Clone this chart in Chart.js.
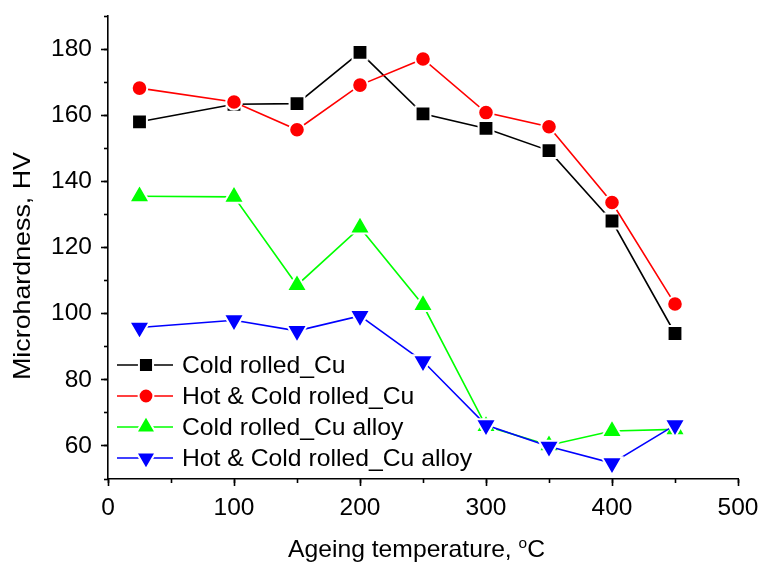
<!DOCTYPE html>
<html>
<head>
<meta charset="utf-8">
<script src="https://cdn.jsdelivr.net/npm/chart.js@4.4.0/dist/chart.umd.min.js"></script>
<style>
    html, body { margin: 0; padding: 0; background: #fff; }
    #div_container { width: 761px; height: 568px; }
</style>
</head>
<body>
<div id="div_container"><canvas id="lineChartID" width="761" height="568"></canvas></div>
<script>
const temperaturas = [25, 100, 150, 200, 250, 300, 350, 400, 450];
const coldCu = [158, 163.3, 163.5, 179, 160.4, 156, 149.3, 128, 94];
const hotColdCu = [168.2, 164, 155.6, 169.1, 177, 160.8, 156.5, 133.6, 102.9];
const coldCuAlloy = [135.5, 135.3, 108.6, 126, 102.6, 66, 60.2, 64.5, 65];
const hotColdCuAlloy = [95.8, 98, 94.8, 99.3, 85.6, 66.3, 59.8, 54.8, 66.3];

const seriesNames = ['Cold rolled_Cu', 'Hot & Cold rolled_Cu', 'Cold rolled_Cu alloy', 'Hot & Cold rolled_Cu alloy'];
const xTicks = [0, 100, 200, 300, 400, 500];
const xMinorTicks = [0, 50, 100, 150, 200, 250, 300, 350, 400, 450, 500];
const yTicks = [60, 80, 100, 120, 140, 160, 180];
const yMinorTicks = [50, 60, 70, 80, 90, 100, 110, 120, 130, 140, 150, 160, 170, 180, 190];
const xTitle = 'Ageing temperature, ';
const yTitle = 'Microhardness, HV';

const fonte = '"Liberation Sans", Arial, sans-serif';

function toPoints(valores) {
    return temperaturas.map((t, i) => ({ x: t, y: valores[i] }));
}

function setTicks(lista) {
    return function (scale) {
        scale.ticks = lista.map(v => ({ value: v }));
    };
}

// titles drawn by hand so the degree sign can be a superscript o
const titlesPlugin = {
    id: 'titles',
    afterDraw(chart) {
        const ctx = chart.ctx;
        ctx.save();
        ctx.fillStyle = '#000';
        ctx.textBaseline = 'alphabetic';

        ctx.font = '24px ' + fonte;
        const wy = ctx.measureText(yTitle).width;
        ctx.translate(30, 266);
        ctx.rotate(-Math.PI / 2);
        ctx.scale(228 / wy, 1);
        ctx.textAlign = 'center';
        ctx.fillText(yTitle, 0, 0);
        ctx.restore();

        ctx.save();
        ctx.fillStyle = '#000';
        ctx.textAlign = 'left';
        ctx.font = '24px ' + fonte;
        const w1 = ctx.measureText(xTitle).width;
        const w3 = ctx.measureText('C').width;
        ctx.font = '15px ' + fonte;
        const w2 = ctx.measureText('o').width;
        const total = w1 + w2 + w3;
        const sx = 257 / total;
        ctx.translate(416.5 - 257 / 2, 557);
        ctx.scale(sx, 1);
        ctx.font = '24px ' + fonte;
        ctx.fillText(xTitle, 0, 0);
        ctx.font = '15px ' + fonte;
        ctx.fillText('o', w1, -9);
        ctx.font = '24px ' + fonte;
        ctx.fillText('C', w1 + w2, 0);
        ctx.restore();
    }
};

const legendPlugin = {
    id: 'legendInside',
    afterDatasetsDraw(chart) {
        const ctx = chart.ctx;
        ctx.save();
        ctx.font = '24px ' + fonte;
        const escala = 290 / ctx.measureText(seriesNames[3]).width;
        ctx.restore();
        chart.data.datasets.forEach(function (ds, i) {
            const y = 365 + i * 31;
            ctx.save();
            ctx.strokeStyle = ds.borderColor;
            ctx.lineWidth = 1.6;
            ctx.beginPath();
            ctx.moveTo(117, y);
            ctx.lineTo(173, y);
            ctx.stroke();
            ctx.fillStyle = ds.pointBackgroundColor;
            ctx.strokeStyle = '#fff';
            ctx.lineWidth = 2;
            Chart.helpers.drawPoint(ctx, {
                pointStyle: ds.pointStyle,
                radius: ds.pointRadius * 0.95,
                rotation: ds.pointRotation || 0,
                borderWidth: 2
            }, 146, y);
            ctx.fillStyle = '#000';
            ctx.font = '24px ' + fonte;
            ctx.textAlign = 'left';
            ctx.textBaseline = 'middle';
            ctx.translate(182, y + 1);
            ctx.scale(escala, 1);
            ctx.fillText(ds.label, 0, 0);
            ctx.restore();
        });
    }
};

const axisStyle = {
    grid: { drawOnChartArea: false, drawTicks: true, tickLength: 7, tickWidth: 1.6, tickColor: '#000' },
    border: { display: true, color: '#000', width: 1.6 }
};

new Chart(document.getElementById('lineChartID'), {
    type: 'line',
    data: {
        datasets: [{
            label: seriesNames[0],
            data: toPoints(coldCu),
            borderColor: '#000000',
            pointBackgroundColor: '#000000',
            pointStyle: 'rect',
            pointRadius: 10.5,
            order: 3
        }, {
            label: seriesNames[1],
            data: toPoints(hotColdCu),
            borderColor: '#ff0000',
            pointBackgroundColor: '#ff0000',
            pointStyle: 'circle',
            pointRadius: 7.8,
            order: 2
        }, {
            label: seriesNames[2],
            data: toPoints(coldCuAlloy),
            borderColor: '#00ff00',
            pointBackgroundColor: '#00ff00',
            pointStyle: 'triangle',
            pointRadius: 11.8,
            order: 1
        }, {
            label: seriesNames[3],
            data: toPoints(hotColdCuAlloy),
            borderColor: '#0000ff',
            pointBackgroundColor: '#0000ff',
            pointStyle: 'triangle',
            pointRotation: 180,
            pointRadius: 11.8,
            order: 0
        }]
    },
    options: {
        responsive: false,
        animation: false,
        events: [],
        datasets: {
            line: {
                borderWidth: 1.6,
                tension: 0,
                fill: false,
                pointBorderColor: '#ffffff',
                pointBorderWidth: 2
            }
        },
        layout: { padding: { left: 0, right: 23, top: 16, bottom: 0 } },
        plugins: {
            legend: { display: false },
            tooltip: { enabled: false }
        },
        scales: {
            x: {
                type: 'linear',
                position: 'bottom',
                min: 0,
                max: 500,
                weight: 1,
                afterBuildTicks: setTicks(xTicks),
                afterFit: function (scale) {
                    scale.height = 89;
                    scale.paddingLeft = 0;
                    scale.paddingRight = 0;
                },
                grid: axisStyle.grid,
                border: axisStyle.border,
                ticks: { color: '#000', font: { family: fonte, size: 24.5 }, padding: 8, maxRotation: 0, autoSkip: false }
            },
            xMinor: {
                type: 'linear',
                position: 'bottom',
                min: 0,
                max: 500,
                weight: 0,
                afterBuildTicks: setTicks(xMinorTicks),
                afterFit: function (scale) {
                    scale.height = 0;
                    scale.paddingLeft = 0;
                    scale.paddingRight = 0;
                },
                grid: { drawOnChartArea: false, drawTicks: true, tickLength: 4, tickWidth: 1.6, tickColor: '#000' },
                border: { display: false },
                ticks: { display: false }
            },
            y: {
                type: 'linear',
                position: 'left',
                min: 50,
                max: 190,
                weight: 1,
                afterBuildTicks: setTicks(yTicks),
                afterFit: function (scale) {
                    scale.width = 108;
                    scale.paddingTop = 0;
                    scale.paddingBottom = 0;
                },
                grid: axisStyle.grid,
                border: axisStyle.border,
                ticks: { color: '#000', font: { family: fonte, size: 24.5 }, padding: 9 }
            },
            yMinor: {
                type: 'linear',
                position: 'left',
                min: 50,
                max: 190,
                weight: 0,
                afterBuildTicks: setTicks(yMinorTicks),
                afterFit: function (scale) {
                    scale.width = 0;
                    scale.paddingTop = 0;
                    scale.paddingBottom = 0;
                },
                grid: { drawOnChartArea: false, drawTicks: true, tickLength: 4, tickWidth: 1.6, tickColor: '#000' },
                border: { display: false },
                ticks: { display: false }
            }
        }
    },
    plugins: [legendPlugin, titlesPlugin]
});
</script>
</body>
</html>
